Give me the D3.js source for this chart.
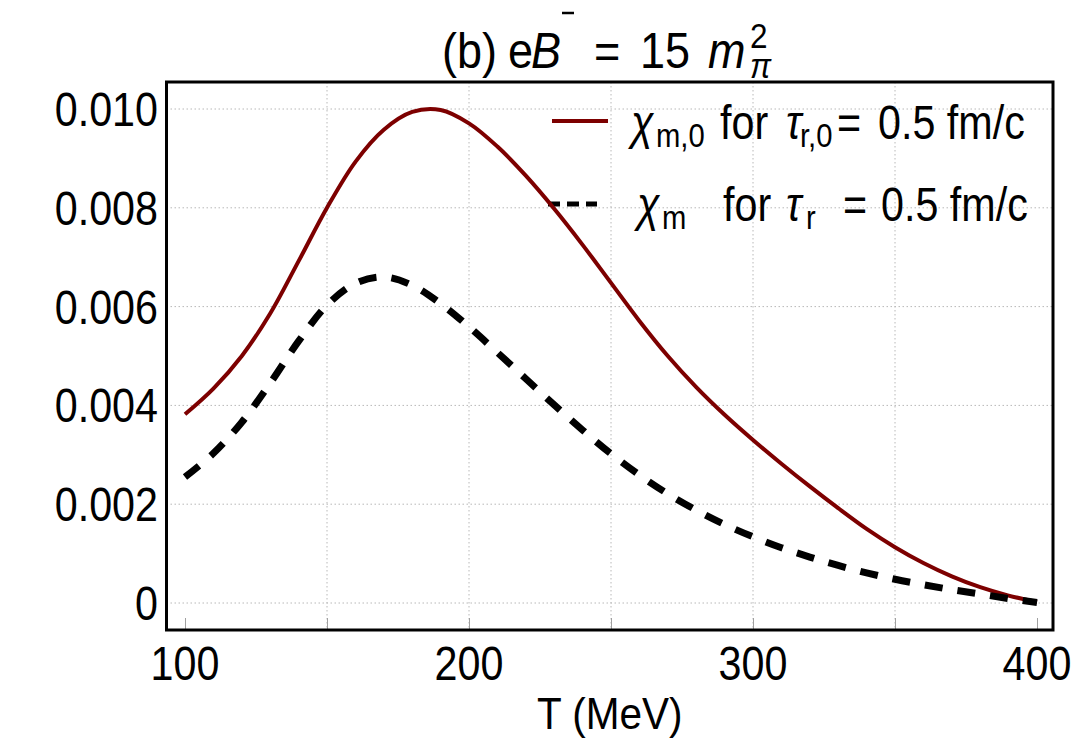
<!DOCTYPE html>
<html><head><meta charset="utf-8">
<script src="https://cdn.jsdelivr.net/npm/d3@7"></script>
<style>
body{margin:0;background:#fff}
text{font-family:"Liberation Sans",Arial,Helvetica,sans-serif;fill:#000}
</style>
</head><body>
<svg id="chart" width="1073" height="740"></svg>
<script>
// ---- data ----
const temperatures = [100,110,120,130,140,150,160,170,180,190,200,210,220,230,240,250,260,270,280,290,300,310,320,330,340,350,360,370,380,390,400];
const chiM0 = [0.00382,0.00434,0.00500,0.00586,0.00692,0.00800,0.00893,0.00958,0.00994,0.00998,0.00971,0.00924,0.00865,0.00798,0.00725,0.00648,0.00571,0.00500,0.00437,0.00381,0.00330,0.00282,0.00236,0.00192,0.00150,0.00113,0.00081,0.00054,0.00032,0.00015,0.00002];
const chiM  = [0.00255,0.00303,0.00366,0.00445,0.00530,0.00603,0.00647,0.00660,0.00643,0.00606,0.00559,0.00507,0.00454,0.00401,0.00350,0.00302,0.00259,0.00221,0.00188,0.00159,0.00134,0.00112,0.00093,0.00076,0.00061,0.00048,0.00037,0.00027,0.00018,0.00009,0.00001];
const xTicks = [100,150,200,250,300,350,400];
const xTickLabels = ["100","","200","","300","","400"];
const xGrid = [150,200,250,300,350];
const yTicks = [0,0.002,0.004,0.006,0.008,0.010];
const yTickLabels = ["0","0.002","0.004","0.006","0.008","0.010"];
const xTitle = "T (MeV)";

// ---- layout ----
const frame = {left:166.5, right:1053, top:82, bottom:630};
const SX = 0.86; // horizontal compression of the narrow-looking reference font
const svg = d3.select("#chart");
const x = d3.scaleLinear().domain([100,400]).range([185,1037]);
const y = d3.scaleLinear().domain([0,0.010]).range([603,109]);

function ntext(parent, x0, y0, str, size, opts={}){
  return parent.append("text")
    .attr("transform",`translate(${x0},${y0}) scale(${opts.sx||SX},1)`)
    .attr("font-size",size)
    .attr("font-style",opts.italic?"italic":"normal")
    .attr("text-anchor",opts.anchor||"start")
    .text(str);
}

// grid
const grid = svg.append("g");
grid.selectAll("line.h").data(yTicks).join("line")
  .attr("x1",frame.left).attr("x2",frame.right)
  .attr("y1",d=>y(d)).attr("y2",d=>y(d))
  .attr("stroke","#b8b8b8").attr("stroke-width",1).attr("stroke-dasharray","1.5,2.5");
grid.selectAll("line.v").data(xGrid).join("line")
  .attr("y1",frame.top).attr("y2",frame.bottom)
  .attr("x1",d=>x(d)).attr("x2",d=>x(d))
  .attr("stroke","#b8b8b8").attr("stroke-width",1).attr("stroke-dasharray","1.5,2.5");

// bottom axis ticks (inward)
const xAxis = d3.axisBottom(x).tickValues(xTicks).tickFormat("").tickSizeInner(-12).tickSizeOuter(0);
const gx = svg.append("g").attr("transform",`translate(0,${frame.bottom})`).call(xAxis);
gx.select(".domain").remove();
gx.selectAll(".tick line").attr("stroke","#a0a0a0").attr("stroke-width",1);
// x tick labels
const gxl = svg.append("g");
xTicks.forEach((t,i)=>{ if(xTickLabels[i]) ntext(gxl, x(t), 680, xTickLabels[i], 48, {anchor:"middle"}); });
// y tick labels
const gyl = svg.append("g");
yTicks.forEach((t,i)=>{ ntext(gyl, 158, y(t)+17, yTickLabels[i], 48, {anchor:"end"}); });

// legend
const leg = svg.append("g");
leg.append("line").attr("x1",552).attr("x2",608).attr("y1",121).attr("y2",121)
  .attr("stroke","#7d0000").attr("stroke-width",4);
leg.append("line").attr("x1",548).attr("x2",597).attr("y1",204).attr("y2",204)
  .attr("stroke","#000").attr("stroke-width",5).attr("stroke-dasharray","12,7");
const b1 = 139, b2 = 221;
// row 1
ntext(leg,631,b1,"χ",48,{italic:true});
ntext(leg,656,b1+8,"m,0",34);
ntext(leg,720,b1,"for",48);
ntext(leg,786,b1,"τ",48,{italic:true});
ntext(leg,800,b1+8,"r,0",34);
ntext(leg,837,b1,"=",48);
ntext(leg,878,b1,"0.5 fm/c",48);
// row 2
ntext(leg,637,b2,"χ",48,{italic:true});
ntext(leg,662,b2+8,"m",34);
ntext(leg,723,b2,"for",48);
ntext(leg,786,b2,"τ",48,{italic:true});
ntext(leg,806,b2+8,"r",34);
ntext(leg,843,b2,"=",48);
ntext(leg,881,b2,"0.5 fm/c",48);

// curves
const line = d3.line().x(d=>x(d[0])).y(d=>y(d[1])).curve(d3.curveCatmullRom.alpha(0.5));
svg.append("path").datum(temperatures.map((t,i)=>[t,chiM0[i]]))
  .attr("d",line).attr("fill","none").attr("stroke","#7d0000").attr("stroke-width",4);
svg.append("path").datum(temperatures.map((t,i)=>[t,chiM[i]]))
  .attr("d",line).attr("fill","none").attr("stroke","#000").attr("stroke-width",7)
  .attr("stroke-dasharray","18,15");

// frame
svg.append("rect").attr("x",frame.left).attr("y",frame.top)
  .attr("width",frame.right-frame.left).attr("height",frame.bottom-frame.top)
  .attr("fill","none").attr("stroke","#000").attr("stroke-width",3);

// x title
ntext(svg,(frame.left+frame.right)/2,729,xTitle,45,{anchor:"middle",sx:0.9});

// title
const tg = svg.append("g");
ntext(tg,442,68,"(b)",50,{sx:0.9});
ntext(tg,508,68,"e",50,{sx:0.9});
ntext(tg,531,68,"B",50,{sx:0.9,italic:true});
tg.append("line").attr("x1",562).attr("x2",574).attr("y1",13).attr("y2",13)
  .attr("stroke","#000").attr("stroke-width",2.5);
ntext(tg,594,68,"=",50,{sx:0.9});
ntext(tg,640,68,"15",50,{sx:0.9});
ntext(tg,708,68,"m",50,{sx:0.9,italic:true});
ntext(tg,750,48,"2",35,{sx:0.9});
ntext(tg,750,78,"π",35,{sx:0.9,italic:true});
</script>
</body></html>
